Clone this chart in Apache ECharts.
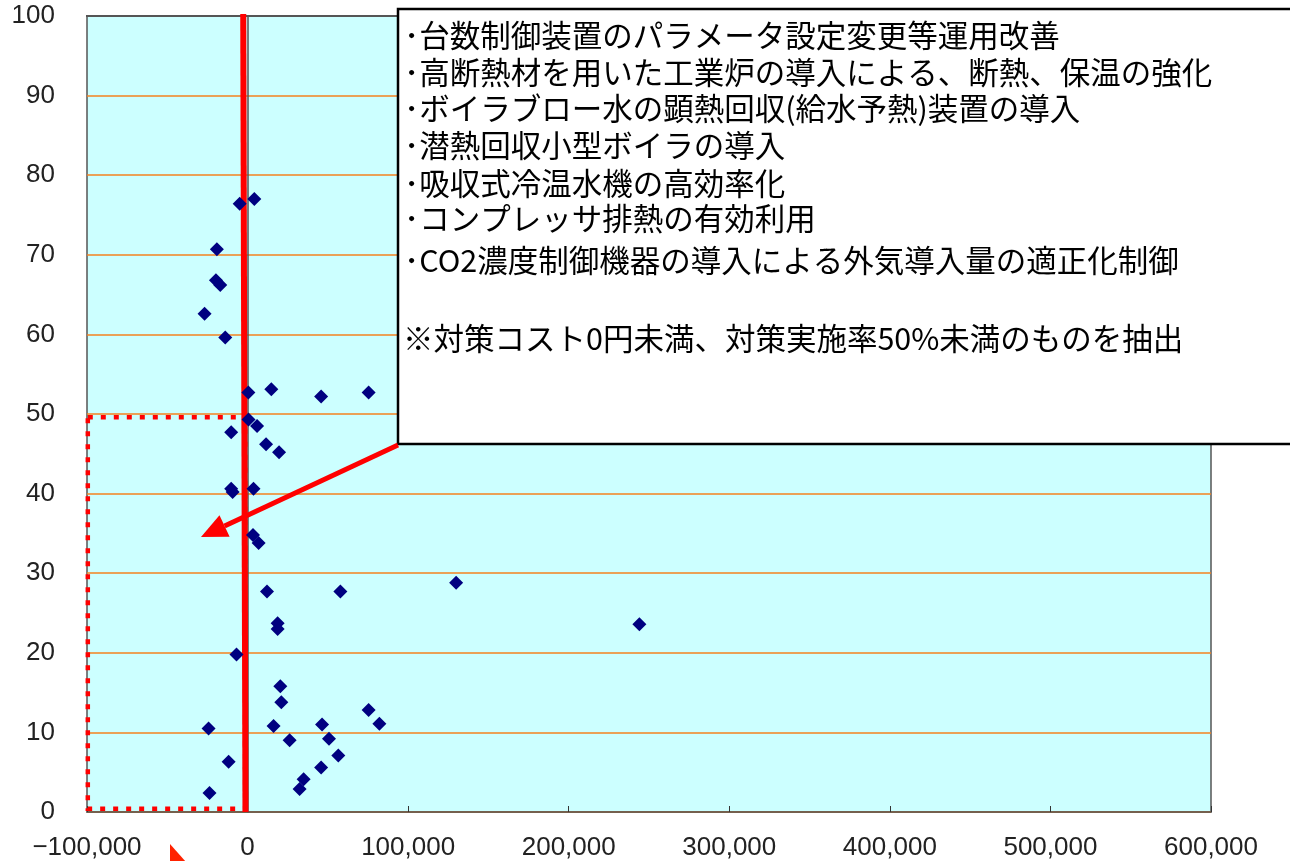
<!DOCTYPE html>
<html><head><meta charset="utf-8">
<script src="https://cdn.jsdelivr.net/npm/echarts@6/dist/echarts.min.js"></script>
<style>html,body{margin:0;padding:0;background:#fff}#c{width:1290px;height:861px}</style>
</head><body><div id="c"></div>
<script>
// 対策コスト (x) and 対策実施率 (y)
const costValues = [-4900, 4200, -19100, -19700, -17000, -26800, -13900, 500, 14800, 45800, 75400,
  600, 5900, -10200, 11500, 19600, -10200, -9300, 3700, 3400, 6900, 12100, 57800, 18700, 18700,
  -6900, 20400, 21000, 75400, 82100, -24300, 16200, 46400, 26200, 50700, -11800, 56500, 45800,
  34900, 32400, -23700, 129900, 244000];
const rateValues = [76.4, 77.0, 70.7, 66.8, 66.2, 62.6, 59.6, 52.7, 53.1, 52.2, 52.7,
  49.3, 48.5, 47.7, 46.2, 45.2, 40.6, 40.2, 40.6, 34.8, 33.8, 27.7, 27.7, 23.7, 23.0,
  19.8, 15.8, 13.8, 12.8, 11.1, 10.5, 10.8, 11.0, 9.0, 9.2, 6.3, 7.1, 5.6,
  4.1, 2.9, 2.4, 28.8, 23.6];
const xRange = [-100000, 600000];
const xStep = 100000;
const yRange = [0, 100];
const yStep = 10;
const noteLines = [
  '･台数制御装置のパラメータ設定変更等運用改善',
  '･高断熱材を用いた工業炉の導入による、断熱、保温の強化',
  '･ボイラブロー水の顕熱回収(給水予熱)装置の導入',
  '･潜熱回収小型ボイラの導入',
  '･吸収式冷温水機の高効率化',
  '･コンプレッサ排熱の有効利用',
  '･CO2濃度制御機器の導入による外気導入量の適正化制御',
  '',
  '※対策コスト0円未満、対策実施率50%未満のものを抽出'
];

const chart = echarts.init(document.getElementById('c'));
const pts = costValues.map((v, i) => [v, rateValues[i]]);
const labelFont = {fontFamily: '"Liberation Sans", Arial, sans-serif', fontSize: 26, color: '#222'};

chart.setOption({
  animation: false,
  grid: {left: 87, right: 79, top: 16, bottom: 49, show: true, backgroundColor: '#CCFFFF',
    borderColor: '#555', borderWidth: 1.5},
  xAxis: {type: 'value', min: xRange[0], max: xRange[1], interval: xStep,
    axisLine: {show: true, lineStyle: {color: '#555', width: 1.5}},
    axisTick: {show: true, inside: true, length: 6, lineStyle: {color: '#333'}},
    splitLine: {show: false},
    axisLabel: Object.assign({margin: 23, formatter: v => (v < 0 ? '\u2212' : '') + Math.abs(v).toLocaleString('en-US')}, labelFont)},
  yAxis: {type: 'value', min: yRange[0], max: yRange[1], interval: yStep,
    axisLine: {show: true, lineStyle: {color: '#555', width: 1.5}},
    axisTick: {show: false},
    splitLine: {show: true, lineStyle: {color: '#F5821F', width: 1.5}},
    axisLabel: Object.assign({margin: 32}, labelFont)},
  series: [{type: 'scatter', data: pts, symbol: 'diamond', symbolSize: 14, z: 5,
    itemStyle: {color: '#000080', opacity: 1}}]
});

const px = p => chart.convertToPixel({gridIndex: 0}, p);
const lineTop = px([-2700, 100]), lineBot = px([-1300, 0]);
const rTL = px([-99500, 49.6]), rBR = px([-1500, 0.4]);

const start = [398, 445], tip = [201, 537];
const dx = tip[0] - start[0], dy = tip[1] - start[1];
const len = Math.hypot(dx, dy), ux = dx / len, uy = dy / len;
const headL = 26, headW = 12;
const base = [tip[0] - ux * headL, tip[1] - uy * headL];
const head = [tip, [base[0] - uy * headW, base[1] + ux * headW], [base[0] + uy * headW, base[1] - ux * headW]];

const graphics = [
  {type: 'rect', z: 2, shape: {x: 86, y: 15, width: 1126, height: 2}, style: {fill: '#555'}},
  {type: 'line', z: 3, shape: {x1: lineTop[0], y1: lineTop[1] - 2, x2: lineBot[0], y2: lineBot[1]},
    style: {stroke: '#FF0000', lineWidth: 6}},
  {type: 'rect', z: 3, shape: {x: rTL[0], y: rTL[1], width: rBR[0] - rTL[0], height: rBR[1] - rTL[1]},
    style: {fill: 'none', stroke: '#FF0000', lineWidth: 4.5, lineDash: [5, 8]}},
  {type: 'rect', z: 100, shape: {x: 398, y: 9, width: 920, height: 435},
    style: {fill: '#fff', stroke: '#000', lineWidth: 2.5}},
  {type: 'line', z: 101, shape: {x1: start[0], y1: start[1], x2: base[0], y2: base[1]},
    style: {stroke: '#FF0000', lineWidth: 5}},
  {type: 'polygon', z: 101, shape: {points: head}, style: {fill: '#FF0000'}},
  {type: 'polygon', z: 101, shape: {points: [[170, 844], [170, 862], [186, 862]]}, style: {fill: '#FF2200'}}
];
const lineYs = [35, 72, 108, 145, 183, 218, 260, 299, 338];
noteLines.forEach((t, i) => {
  if (!t) return;
  graphics.push({type: 'text', z: 102, style: {text: t, x: i === 8 ? 403 : 404, y: lineYs[i],
    font: '30.5px "Noto Sans CJK JP"', fill: '#000', verticalAlign: 'middle'}});
});
chart.setOption({graphic: graphics});
</script></body></html>
